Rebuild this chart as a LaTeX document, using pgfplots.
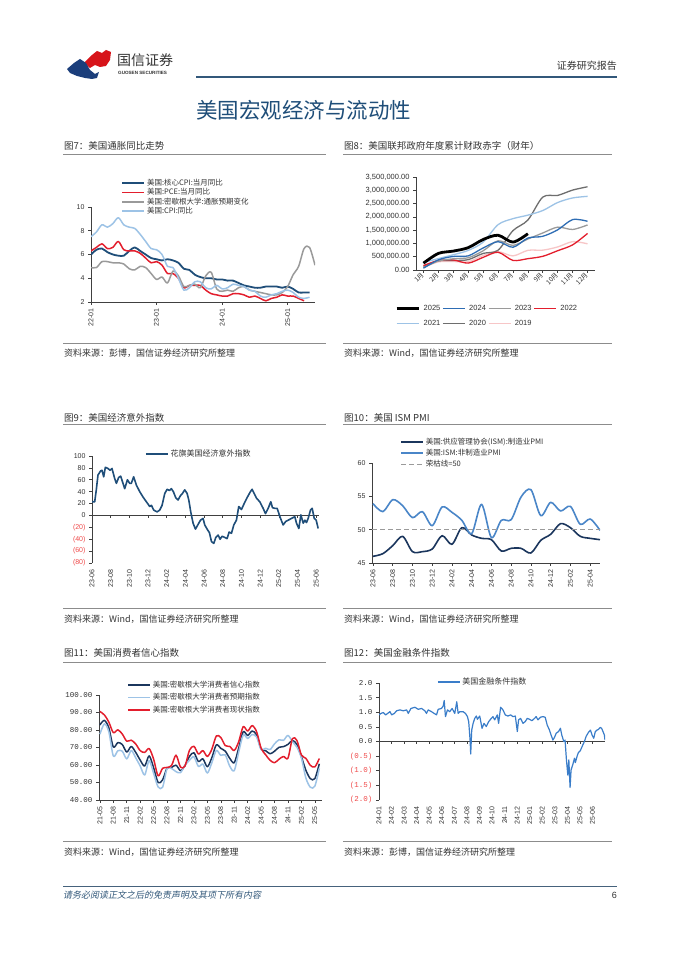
\documentclass[border=0pt]{standalone}
\usepackage{fontspec}
\setmainfont{Noto Sans CJK SC}
\newfontfamily\arial{Liberation Sans}
\newfontfamily\mono{Liberation Mono}
\newfontfamily\cjkit{Noto Sans CJK SC}[FakeSlant=0.2]
\usepackage{pgfplots}
\pgfplotsset{compat=1.18}

\newcommand\fs[1]{\fontsize{#1}{#1}\selectfont}

\definecolor{axc}{HTML}{404040}
\definecolor{txt}{HTML}{333333}
\definecolor{rulec}{HTML}{8C8C8C}
\definecolor{head}{HTML}{1F4E79}
\definecolor{negred}{HTML}{F04A4A}
\definecolor{navy}{HTML}{1F4E79}
\definecolor{cred}{HTML}{E31E2D}
\definecolor{cgray}{HTML}{9A9A9A}
\definecolor{clb}{HTML}{9DC3E6}
\definecolor{cblue}{HTML}{2E6DB4}
\definecolor{cdg}{HTML}{6E6E6E}
\definecolor{cpink}{HTML}{F7C6C7}
\definecolor{cmfg}{HTML}{1B365D}
\definecolor{csvc}{HTML}{4A86C8}
\definecolor{cfci}{HTML}{3A7DC9}
\definecolor{logored}{HTML}{D7141A}
\definecolor{logoblue}{HTML}{1B3E7B}

\pgfplotsset{
  base/.style={
    scale only axis, anchor=south west,
    axis lines*=left,
    axis line style={line width=0.7pt, color=axc},
    tick style={line width=0.6pt, color=axc},
    tick align=outside, major tick length=3pt,
    /pgf/number format/assume math mode=true,
    yticklabel style={font=\arial\fs{7}, text=txt},
    xticklabel style={font=\arial\fs{7}, text=txt},
    legend cell align=left,
    legend style={draw=none, fill=none, inner sep=0pt, font=\fs{7.5}, text=txt,
      nodes={inner xsep=2pt, inner ysep=0.5pt, text height=6pt, text depth=1.5pt}},
    legend image code/.code={\draw[##1] (0pt,0pt) -- (22pt,0pt);},
    every axis plot/.append style={line join=round},
  },
  vlab/.style={xticklabel style={rotate=90, anchor=east}},
}

\begin{document}
\begin{tikzpicture}
\path[fill=white, use as bounding box] (0pt,0pt) rectangle (677pt,957pt);

\begin{scope}[shift={(0pt,957pt)}, x=1pt, y=-1pt]
% header
\fill[logored] (84,63) -- (92,55) -- (97,51) -- (102,53) -- (106,50) -- (111,52) -- (110,60) -- (106,66) -- (100,67) -- (95,65) -- (90,68) -- cycle;
\fill[logoblue] (67,69) -- (74,63) -- (80,59) -- (86,63) -- (90,70) -- (95,74) -- (99,72) -- (97,78) -- (92,79) -- (85,78) -- (77,76) -- (70,73) -- cycle;
\node[anchor=west, inner sep=0, font=\fs{14}, text=txt] at (117,60) {国信证券};
\node[anchor=west, inner sep=0, font=\arial\bfseries\fs{4.6}, text=txt] at (118,73) {GUOSEN SECURITIES};
\node[anchor=east, inner sep=0, font=\fs{10}, text=txt] at (617,66) {证券研究报告};
\draw[head!80!gray, line width=1.5pt] (196,77) -- (617,77);
\node[anchor=west, inner sep=0, font=\fs{21.5}, text=head] at (196,110) {美国宏观经济与流动性};

% panel frames
\foreach \xa/\xb in {63/326, 343/612} {
  \foreach \ya in {155, 344, 425, 609, 663, 842} {
    \draw[rulec, line width=1pt] (\xa,\ya) -- (\xb,\ya);
  }
}
\node[anchor=west, inner sep=0, font=\fs{9.5}, text=txt] at (64,146) {图7：美国通胀同比走势};
\node[anchor=west, inner sep=0, font=\fs{9.5}, text=txt] at (344,146) {图8：美国联邦政府年度累计财政赤字（财年）};
\node[anchor=west, inner sep=0, font=\fs{9.5}, text=txt] at (64,418) {图9：美国经济意外指数};
\node[anchor=west, inner sep=0, font=\fs{9.5}, text=txt] at (344,418) {图10：美国 ISM PMI};
\node[anchor=west, inner sep=0, font=\fs{9.5}, text=txt] at (64,653) {图11：美国消费者信心指数};
\node[anchor=west, inner sep=0, font=\fs{9.5}, text=txt] at (344,653) {图12：美国金融条件指数};

\node[anchor=west, inner sep=0, font=\fs{9}, text=txt] at (64,353) {资料来源：彭博，国信证券经济研究所整理};
\node[anchor=west, inner sep=0, font=\fs{9}, text=txt] at (344,353) {资料来源：Wind，国信证券经济研究所整理};
\node[anchor=west, inner sep=0, font=\fs{9}, text=txt] at (64,619) {资料来源：Wind，国信证券经济研究所整理};
\node[anchor=west, inner sep=0, font=\fs{9}, text=txt] at (344,619) {资料来源：Wind，国信证券经济研究所整理};
\node[anchor=west, inner sep=0, font=\fs{9}, text=txt] at (64,852) {资料来源：Wind，国信证券经济研究所整理};
\node[anchor=west, inner sep=0, font=\fs{9}, text=txt] at (344,852) {资料来源：彭博，国信证券经济研究所整理};

% footer
\draw[head!60!gray, line width=0.8pt] (63,886) -- (617,886);
\node[anchor=west, inner sep=0, font=\cjkit\fs{9}, text=head!80!gray] at (63,895) {请务必阅读正文之后的免责声明及其项下所有内容};
\node[anchor=east, inner sep=0, font=\arial\fs{9}, text=txt] at (617,895) {6};
\end{scope}

% ---------- chart 7 ----------
\begin{axis}[base, vlab, at={(91pt,655pt)}, width=224pt, height=95pt,
  xmin=0, xmax=41, ymin=2, ymax=10, ytick={2,4,6,8,10},
  xtick={0,12,24,36}, xticklabels={22-01,23-01,24-01,25-01},
  legend style={at={(0.134,1.297)}, anchor=north west, row sep=0.8pt},
]
\addplot[navy, line width=1.8pt, smooth] coordinates {
(0,6.0)(1,6.4)(2,6.5)(3,6.2)(4,6.0)(5,5.9)(6,5.9)(7,6.3)(8,6.6)(9,6.3)(10,6.0)(11,5.7)
(12,5.6)(13,5.5)(14,5.6)(15,5.5)(16,5.3)(17,4.8)(18,4.7)(19,4.3)(20,4.1)(21,4.0)(22,4.0)(23,3.9)
(24,3.9)(25,3.8)(26,3.8)(27,3.6)(28,3.4)(29,3.3)(30,3.2)(31,3.2)(32,3.3)(33,3.3)(34,3.3)(35,3.2)
(36,3.3)(37,3.1)(38,2.8)(39,2.8)(40,2.8)};
\addlegendentry{美国:核心CPI:当月同比}
\addplot[cred, line width=1.5pt, smooth] coordinates {
(0,6.3)(1,6.6)(2,6.9)(3,6.5)(4,6.6)(5,7.1)(6,6.4)(7,6.3)(8,6.3)(9,6.1)(10,5.7)(11,5.3)
(12,5.4)(13,5.1)(14,4.4)(15,4.4)(16,4.0)(17,3.2)(18,3.4)(19,3.4)(20,3.4)(21,3.0)(22,2.7)(23,2.6)
(24,2.5)(25,2.5)(26,2.7)(27,2.7)(28,2.6)(29,2.4)(30,2.5)(31,2.3)(32,2.1)(33,2.3)(34,2.4)(35,2.6)
(36,2.5)(37,2.5)(38,2.3)(39,2.1)};
\addlegendentry{美国:PCE:当月同比}
\addplot[cgray, line width=1.5pt, smooth] coordinates {
(0,4.9)(1,4.9)(2,5.4)(3,5.4)(4,5.3)(5,5.3)(6,5.2)(7,4.8)(8,4.7)(9,5.0)(10,4.9)(11,4.4)
(12,3.9)(13,4.1)(14,3.6)(15,4.6)(16,4.2)(17,3.3)(18,3.4)(19,3.5)(20,3.2)(21,4.2)(22,4.5)(23,3.1)
(24,2.9)(25,3.0)(26,2.9)(27,3.2)(28,3.3)(29,3.0)(30,2.9)(31,2.8)(32,2.7)(33,2.6)(34,2.6)(35,2.8)
(36,3.3)(37,4.3)(38,5.0)(39,6.5)(40,6.6)(41,5.1)};
\addlegendentry{美国:密歇根大学:通胀预期变化}
\addplot[clb, line width=1.5pt, smooth] coordinates {
(0,7.5)(1,7.9)(2,8.5)(3,8.3)(4,8.6)(5,9.1)(6,8.5)(7,8.3)(8,8.2)(9,7.7)(10,7.1)(11,6.5)
(12,6.4)(13,6.0)(14,5.0)(15,4.9)(16,4.0)(17,3.0)(18,3.2)(19,3.7)(20,3.7)(21,3.2)(22,3.1)(23,3.4)
(24,3.1)(25,3.2)(26,3.5)(27,3.4)(28,3.3)(29,3.0)(30,2.9)(31,2.5)(32,2.4)(33,2.6)(34,2.7)(35,2.9)
(36,3.0)(37,2.8)(38,2.4)(39,2.3)(40,2.4)};
\addlegendentry{美国:CPI:同比}
\end{axis}

% ---------- chart 8 ----------
\begin{axis}[base, at={(416pt,687pt)}, width=179pt, height=93pt,
  xmin=0.5, xmax=12.5, ymin=0, ymax=3500000,
  ytick={0,500000,1000000,1500000,2000000,2500000,3000000,3500000},
  scaled y ticks=false,
  yticklabel style={font=\arial\fs{7.5}, /pgf/number format/fixed, /pgf/number format/fixed zerofill,
    /pgf/number format/precision=2, /pgf/number format/1000 sep={,}},
  xtick={1,...,12}, xticklabels={1月,2月,3月,4月,5月,6月,7月,8月,9月,10月,11月,12月},
  xticklabel style={font=\fs{6.5}, rotate=45, anchor=east, inner sep=1pt},
  legend columns=4, reverse legend,
  legend style={at={(-0.117,-0.363)}, anchor=north west, row sep=6.5pt, font=\arial\fs{7.5},
    /tikz/every odd column/.append style={column sep=1.6pt}},
]
\addplot[cpink, line width=1.3pt, smooth] coordinates {
(1,100000)(2,305000)(3,319000)(4,310000)(5,544000)(6,691000)(7,531000)(8,739000)(9,747000)(10,867000)(11,1067000)(12,984000)};
\addlegendentry{2019}
\addplot[cdg, line width=1.3pt, smooth] coordinates {
(1,134000)(2,343000)(3,357000)(4,389000)(5,624000)(6,743000)(7,1481000)(8,1880000)(9,2744000)(10,2807000)(11,3007000)(12,3132000)};
\addlegendentry{2020}
\addplot[clb, line width=1.3pt, smooth] coordinates {
(1,284000)(2,429000)(3,573000)(4,736000)(5,1047000)(6,1706000)(7,1932000)(8,2064000)(9,2238000)(10,2540000)(11,2711000)(12,2772000)};
\addlegendentry{2021}
\addplot[cred, line width=1.3pt, smooth] coordinates {
(1,165000)(2,357000)(3,378000)(4,259000)(5,475000)(6,668000)(7,360000)(8,426000)(9,515000)(10,726000)(11,946000)(12,1375000)};
\addlegendentry{2022}
\addplot[cgray, line width=1.3pt, smooth] coordinates {
(1,88000)(2,337000)(3,421000)(4,460000)(5,722000)(6,1100000)(7,925000)(8,1165000)(9,1393000)(10,1613000)(11,1525000)(12,1695000)};
\addlegendentry{2023}
\addplot[cblue, line width=1.3pt, smooth] coordinates {
(1,67000)(2,381000)(3,510000)(4,532000)(5,828000)(6,1065000)(7,855000)(8,1202000)(9,1268000)(10,1512000)(11,1897000)(12,1833000)};
\addlegendentry{2024}
\addplot[black, line width=2.8pt, smooth] coordinates {
(1,257000)(2,624000)(3,711000)(4,840000)(5,1147000)(6,1307000)(7,1049000)(8,1365000)};
\addlegendentry{2025}
\end{axis}

% ---------- chart 9 ----------
\begin{axis}[base, vlab, at={(92pt,394pt)}, width=227pt, height=107pt,
  xmin=0, xmax=24.3, ymin=-80, ymax=100,
  x axis line style={draw=none}, xtick style={draw=none},
  ytick={-80,-60,-40,-20,0,20,40,60,80,100},
  yticklabels={\textcolor{negred}{(80)},\textcolor{negred}{(60)},\textcolor{negred}{(40)},\textcolor{negred}{(20)},0,20,40,60,80,100},
  xtick={0,2,4,6,8,10,12,14,16,18,20,22,24},
  xticklabels={23-06,23-08,23-10,23-12,24-02,24-04,24-06,24-08,24-10,24-12,25-02,25-04,25-06},
  legend style={at={(0.233,1.019)}, anchor=west, font=\fs{8}},
]
\draw[axc, line width=0.8pt] (axis cs:0,0) -- (axis cs:24.3,0);
\pgfplotsinvokeforeach{0,2,4,6,8,10,12,14,16,18,20,22,24}{\draw[axc, line width=0.6pt] (axis cs:#1,0) -- ++(0pt,-3pt);}
\addplot[navy, line width=1.6pt] coordinates {
(0,23)(0.29,23)(0.46,43)(0.64,68)(0.93,75)(1.07,76)(1.25,65)(1.43,81)(1.71,79)(1.93,76)(2.14,79)(2.43,62)(2.61,54)(2.86,64)(3.07,66)(3.32,54)(3.5,45)(3.79,60)(4.04,54)(4.21,54)(4.46,65)(4.75,51)(5.11,40)(5.46,31)(5.82,23)(6.18,15)(6.36,17)(6.61,9)(6.96,6)(7.25,9)(7.5,17)(7.79,37)(8.04,44)(8.29,42)(8.5,45)(8.71,40)(8.96,30)(9.21,26)(9.46,33)(9.68,37)(9.93,43)(10.18,37)(10.36,26)(10.57,6)(10.82,-13)(11.07,-23)(11.36,-15)(11.61,-8)(11.89,-5)(12.07,-16)(12.36,-24)(12.57,-29)(12.79,-44)(13.04,-47)(13.25,-37)(13.5,-33)(13.71,-40)(13.93,-35)(14.21,-37)(14.46,-39)(14.68,-28)(14.93,-30)(15.18,-16)(15.46,-8)(15.71,15)(16.0,10)(16.29,20)(16.64,31)(16.96,40)(17.14,44)(17.36,37)(17.61,29)(17.96,23)(18.32,12)(18.57,3)(18.86,12)(19.14,23)(19.32,13)(19.57,12)(19.82,12)(20.11,-2)(20.46,-16)(20.75,-10)(21.0,-8)(21.36,-5)(21.71,-2)(21.89,-13)(22.14,-22)(22.36,1)(22.61,-13)(22.79,-8)(22.96,-12)(23.14,-5)(23.39,9)(23.57,12)(23.79,-5)(24.0,-8)(24.21,-22)};
\addlegendentry{花旗美国经济意外指数}
\end{axis}

% ---------- chart 10 ----------
\begin{axis}[base, vlab, at={(372pt,394pt)}, width=228pt, height=100pt,
  xmin=-0.1, xmax=23, ymin=45, ymax=60, ytick={45,50,55,60},
  xtick={0,2,4,6,8,10,12,14,16,18,20,22},
  xticklabels={23-06,23-08,23-10,23-12,24-02,24-04,24-06,24-08,24-10,24-12,25-02,25-04},
  legend style={at={(0.123,1.2525)}, anchor=north west, row sep=2.5pt},
]
\addplot[cmfg, line width=1.6pt, smooth] coordinates {
(0,46.0)(1,46.4)(2,47.6)(3,49.0)(4,46.7)(5,46.7)(6,47.1)(7,49.1)(8,47.8)(9,50.3)(10,49.2)(11,48.7)
(12,48.5)(13,46.8)(14,47.2)(15,47.2)(16,46.5)(17,48.4)(18,49.3)(19,50.9)(20,50.3)(21,49.0)(22,48.7)(23,48.5)};
\addlegendentry{美国:供应管理协会(ISM):制造业PMI}
\addplot[csvc, line width=1.6pt, smooth] coordinates {
(0,53.9)(1,52.7)(2,54.5)(3,53.6)(4,51.8)(5,52.7)(6,50.6)(7,53.4)(8,52.6)(9,51.4)(10,49.4)(11,53.8)
(12,48.8)(13,51.4)(14,51.5)(15,54.9)(16,56.0)(17,52.1)(18,54.1)(19,52.8)(20,53.5)(21,50.8)(22,51.6)(23,49.9)};
\addlegendentry{美国:ISM:非制造业PMI}
\addplot[cgray, line width=1.2pt, dash pattern=on 5pt off 3pt] coordinates {(-0.1,50)(23,50)};
\addlegendentry{荣枯线=50}
\end{axis}

% ---------- chart 11 ----------
\begin{axis}[base, vlab, at={(99pt,157pt)}, width=223pt, height=105pt,
  xmin=-0.2, xmax=49.6, ymin=40, ymax=100, ytick={40,50,...,100},
  yticklabel style={font=\mono\fs{7.5}, /pgf/number format/fixed, /pgf/number format/fixed zerofill, /pgf/number format/precision=2},
  xtick={0,3,...,48},
  xticklabels={21-05,21-08,21-11,22-02,22-05,22-08,22-11,23-02,23-05,23-08,23-11,24-02,24-05,24-08,24-11,25-02,25-05},
  legend style={at={(0.126,1.136)}, anchor=north west, row sep=4pt},
]
\addplot[cmfg, line width=1.5pt, smooth] coordinates {
(0,82.9)(1,85.5)(2,81.2)(3,70.3)(4,72.8)(5,71.7)(6,67.4)(7,70.6)
(8,67.2)(9,62.8)(10,59.4)(11,65.2)(12,58.4)(13,50.0)(14,51.5)(15,58.2)(16,58.6)(17,59.9)(18,56.8)(19,59.7)
(20,64.9)(21,67.0)(22,62.0)(23,63.5)(24,59.0)(25,64.2)(26,71.5)(27,69.5)(28,67.9)(29,63.8)(30,61.3)(31,69.7)
(32,79.0)(33,76.9)(34,79.4)(35,77.2)(36,69.1)(37,68.2)(38,66.4)(39,67.9)(40,70.1)(41,70.5)(42,71.8)(43,74.0)
(44,71.7)(45,64.7)(46,57.0)(47,52.2)(48,52.2)(49,60.7)};
\addlegendentry{美国:密歇根大学消费者信心指数}
\addplot[clb, line width=1.5pt, smooth] coordinates {
(0,77.6)(1,83.5)(2,79.0)(3,65.1)(4,68.1)(5,67.9)(6,63.5)(7,68.3)
(8,64.1)(9,59.4)(10,54.3)(11,62.5)(12,55.2)(13,47.5)(14,47.3)(15,58.0)(16,58.0)(17,56.2)(18,55.6)(19,59.9)
(20,62.7)(21,64.7)(22,59.2)(23,60.5)(24,55.4)(25,61.3)(26,68.3)(27,65.5)(28,65.8)(29,59.3)(30,56.8)(31,67.4)
(32,77.1)(33,75.2)(34,77.4)(35,76.0)(36,68.8)(37,69.6)(38,68.8)(39,72.1)(40,74.4)(41,74.1)(42,76.9)(43,73.3)
(44,70.2)(45,64.0)(46,52.6)(47,47.3)(48,47.9)(49,58.1)};
\addlegendentry{美国:密歇根大学消费者预期指数}
\addplot[cred, line width=1.5pt, smooth] coordinates {
(0,90.6)(1,88.6)(2,84.5)(3,78.5)(4,80.1)(5,77.7)(6,73.6)(7,74.2)
(8,72.0)(9,68.2)(10,67.2)(11,69.4)(12,63.3)(13,53.8)(14,58.1)(15,58.6)(16,59.7)(17,65.6)(18,58.8)(19,59.4)
(20,68.4)(21,70.7)(22,66.3)(23,68.2)(24,64.9)(25,69.0)(26,76.6)(27,75.7)(28,71.1)(29,70.6)(30,68.3)(31,73.3)
(32,81.9)(33,79.4)(34,82.5)(35,79.0)(36,69.6)(37,65.9)(38,62.7)(39,61.3)(40,63.3)(41,64.9)(42,63.9)(43,75.1)
(44,74.0)(45,65.7)(46,63.8)(47,59.8)(48,58.9)(49,63.7)};
\addlegendentry{美国:密歇根大学消费者现状指数}
\end{axis}

% ---------- chart 12 ----------
\begin{axis}[base, vlab, at={(379pt,157pt)}, width=226pt, height=117pt,
  xmin=0, xmax=17.99, ymin=-2, ymax=2,
  x axis line style={draw=none}, xtick style={draw=none},
  ytick={-2,-1.5,-1,-0.5,0,0.5,1,1.5,2},
  yticklabel style={font=\mono\fs{7.5}},
  yticklabels={\textcolor{negred}{(2.0)},\textcolor{negred}{(1.5)},\textcolor{negred}{(1.0)},\textcolor{negred}{(0.5)},0.0,0.5,1.0,1.5,2.0},
  xtick={0,...,17},
  xticklabels={24-01,24-02,24-03,24-04,24-05,24-06,24-07,24-08,24-09,24-10,24-11,24-12,25-01,25-02,25-03,25-04,25-05,25-06},
  legend style={at={(0.257,1.009)}, anchor=west, font=\fs{8}},
]
\draw[axc, line width=0.8pt] (axis cs:0,0) -- (axis cs:17.99,0);
\pgfplotsinvokeforeach{0,...,17}{\draw[axc, line width=0.6pt] (axis cs:#1,0) -- ++(0pt,-3pt);}
\addplot[cfci, line width=1.2pt] coordinates {
(0.00,0.91)(0.16,0.96)(0.34,0.99)(0.53,0.91)(0.69,0.96)(0.87,1.02)(1.01,0.91)(1.22,0.96)(1.40,1.05)(1.67,1.08)(1.93,1.05)(2.20,1.08)(2.33,0.96)(2.54,1.13)(2.86,1.17)(3.12,1.10)(3.39,1.13)(3.65,1.05)(3.78,0.96)(3.92,1.08)(4.18,1.02)(4.39,0.96)(4.58,0.91)(4.71,1.10)(4.97,1.13)(5.11,1.21)(5.19,1.40)(5.29,0.85)(5.45,1.08)(5.63,1.02)(5.82,1.13)(6.03,0.96)(6.19,1.36)(6.30,0.96)(6.43,1.02)(6.69,1.02)(6.88,0.96)(7.04,0.85)(7.14,0.68)(7.25,0.05)(7.30,-0.43)(7.38,0.39)(7.49,0.62)(7.62,0.79)(7.75,0.87)(7.83,0.76)(8.02,0.87)(8.20,0.45)(8.36,0.62)(8.54,0.51)(8.73,0.68)(8.94,0.79)(9.07,0.85)(9.21,0.74)(9.42,0.91)(9.52,0.62)(9.68,1.17)(9.87,1.08)(10.05,0.91)(10.26,0.87)(10.48,0.91)(10.66,0.85)(10.85,0.87)(11.01,0.34)(11.11,0.74)(11.27,0.79)(11.46,0.62)(11.64,0.68)(11.80,0.79)(11.98,0.76)(12.17,0.71)(12.38,0.79)(12.51,0.85)(12.65,0.74)(12.86,0.83)(13.04,0.85)(13.23,0.83)(13.39,0.56)(13.57,0.39)(13.70,0.22)(13.84,0.05)(13.97,0.14)(14.10,0.28)(14.29,0.34)(14.44,0.45)(14.55,0.22)(14.71,0.00)(14.81,0.05)(14.92,-0.63)(15.03,-1.15)(15.11,-0.63)(15.21,-1.57)(15.29,-0.97)(15.42,-0.80)(15.56,-0.57)(15.63,-0.72)(15.77,-0.50)(15.87,-0.38)(16.03,-0.31)(16.22,-0.12)(16.35,0.00)(16.48,0.17)(16.67,0.31)(16.83,0.39)(16.96,0.22)(17.09,0.11)(17.22,0.34)(17.35,0.39)(17.46,0.41)(17.62,0.48)(17.72,0.45)(17.83,0.34)(17.94,0.22)(17.99,0.05)};
\addlegendentry{美国金融条件指数}
\end{axis}
\end{tikzpicture}
\end{document}
